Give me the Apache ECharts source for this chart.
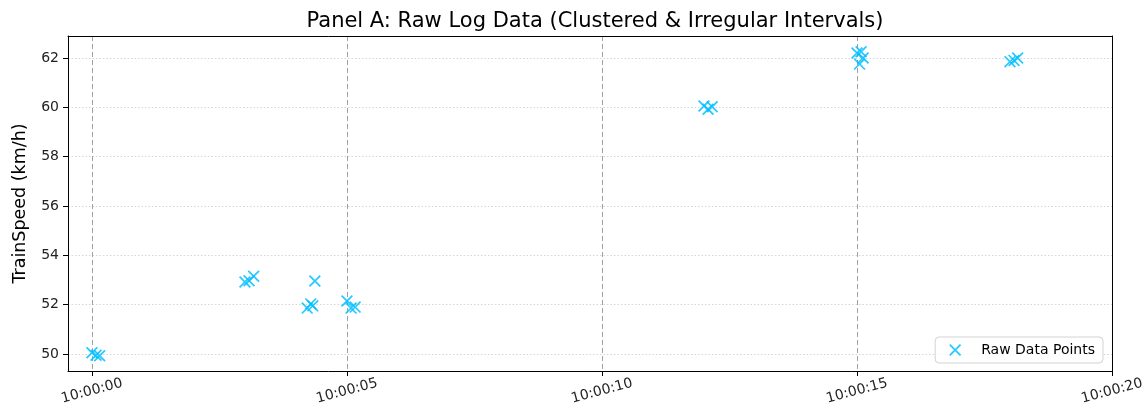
<!DOCTYPE html>
<html>
<head>
<meta charset="utf-8">
<script src="https://cdn.jsdelivr.net/npm/echarts@6/dist/echarts.min.js"></script>
<style>
  html, body { margin: 0; padding: 0; background: #fff; }
  #chart { width: 1148px; height: 415px; }
</style>
</head>
<body>
<div id="chart"></div>
<script>
// Seconds after 10:00:00 for each logged sample
const sampleSeconds = [
  0.00, 0.08, 0.15,
  3.00, 3.08, 3.17,
  4.22, 4.29, 4.33, 4.37,
  5.00, 5.08, 5.16,
  12.00, 12.08, 12.16,
  15.00, 15.08, 15.12, 15.05,
  18.00, 18.08, 18.15
];
// Train speed (km/h) for each sample
const sampleSpeeds = [
  50.05, 49.95, 49.93,
  52.92, 52.97, 53.15,
  51.86, 52.03, 51.95, 52.96,
  52.15, 51.86, 51.90,
  60.05, 59.92, 60.02,
  62.20, 62.25, 62.00, 61.75,
  61.85, 61.90, 62.00
];
// Tick positions
const xTicks = [0, 5, 10, 15, 20];
const xGridTicks = [0, 5, 10, 15];
const yTicks = [50, 52, 54, 56, 58, 60, 62];
const xRange = [-0.47, 20];
const yRange = [49.31, 62.89];

const FONT = 'DejaVu Sans';
const MARKER = 'deepskyblue';
// thin "x" marker built from two crossing bars
const X_PATH = 'path://M0,10L10,0L100,90L90,100ZM90,0L100,10L10,100L0,90Z';

const points = sampleSeconds.map((s, i) => [s, sampleSpeeds[i]]);

function clock(v) {
  const s = Math.round(v);
  return '10:00:' + String(s).padStart(2, '0');
}

const spine = { show: true, onZero: false, lineStyle: { color: '#000', width: 1 } };
const hidden = { show: false };

const chart = echarts.init(document.getElementById('chart'), null, { renderer: 'canvas' });
chart.setOption({
  animation: false,
  backgroundColor: '#fff',
  title: {
    text: 'Panel A: Raw Log Data (Clustered & Irregular Intervals)',
    left: 590, top: 6, textAlign: 'center',
    textStyle: { fontFamily: FONT, fontSize: 21, fontWeight: 'normal', color: '#000' }
  },
  grid: { left: 68, right: 36, top: 36, bottom: 44 },
  legend: {
    right: 45, top: 337,
    orient: 'horizontal',
    padding: [6, 8, 6, 14],
    backgroundColor: 'rgba(255,255,255,0.8)',
    borderColor: '#d3d3d3', borderWidth: 1, borderRadius: 4,
    itemWidth: 24, itemHeight: 12,
    textStyle: { fontFamily: FONT, fontSize: 14, color: '#000', padding: [0, 0, 0, 9] },
    data: [{ name: 'Raw Data Points', icon: X_PATH }]
  },
  xAxis: [
    {
      type: 'value', min: xRange[0], max: xRange[1],
      axisLine: spine,
      axisTick: { show: true, length: 5, lineStyle: { color: '#000' }, customValues: xTicks },
      axisLabel: {
        customValues: xTicks, formatter: clock, rotate: 15,
        align: 'center', verticalAlign: 'middle', margin: 20,
        fontFamily: FONT, fontSize: 14, color: '#222'
      },
      splitLine: hidden
    },
    {
      // vertical dashed guides at the whole-second marks inside the frame
      type: 'value', min: xRange[0], max: xRange[1],
      axisLine: hidden,
      axisTick: { show: false, customValues: xGridTicks },
      axisLabel: hidden,
      splitLine: { show: true, lineStyle: { color: '#a0a0a0', type: [5, 3], width: 1 } }
    },
    {
      type: 'value', min: xRange[0], max: xRange[1], position: 'top', z: 5,
      axisLine: spine, axisTick: hidden, axisLabel: hidden, splitLine: hidden
    }
  ],
  yAxis: [
    {
      type: 'value', min: yRange[0], max: yRange[1],
      name: 'TrainSpeed (km/h)', nameLocation: 'middle', nameGap: 39, nameRotate: 90,
      nameTextStyle: { fontFamily: FONT, fontSize: 17.5, color: '#000' },
      axisLine: spine,
      axisTick: { show: true, length: 5, lineStyle: { color: '#000' }, customValues: yTicks },
      axisLabel: {
        customValues: yTicks, margin: 9,
        fontFamily: FONT, fontSize: 14, color: '#222'
      },
      splitLine: { show: true, lineStyle: { color: '#d5d5d5', type: [1.5, 2], width: 1 } }
    },
    {
      type: 'value', min: yRange[0], max: yRange[1], position: 'right', z: 5,
      axisLine: spine, axisTick: hidden, axisLabel: hidden, splitLine: hidden
    }
  ],
  series: [{
    name: 'Raw Data Points',
    type: 'scatter',
    xAxisIndex: 0, yAxisIndex: 0,
    symbol: X_PATH,
    symbolSize: 12,
    itemStyle: { color: MARKER, opacity: 0.85 },
    data: points
  }]
});
</script>
</body>
</html>
